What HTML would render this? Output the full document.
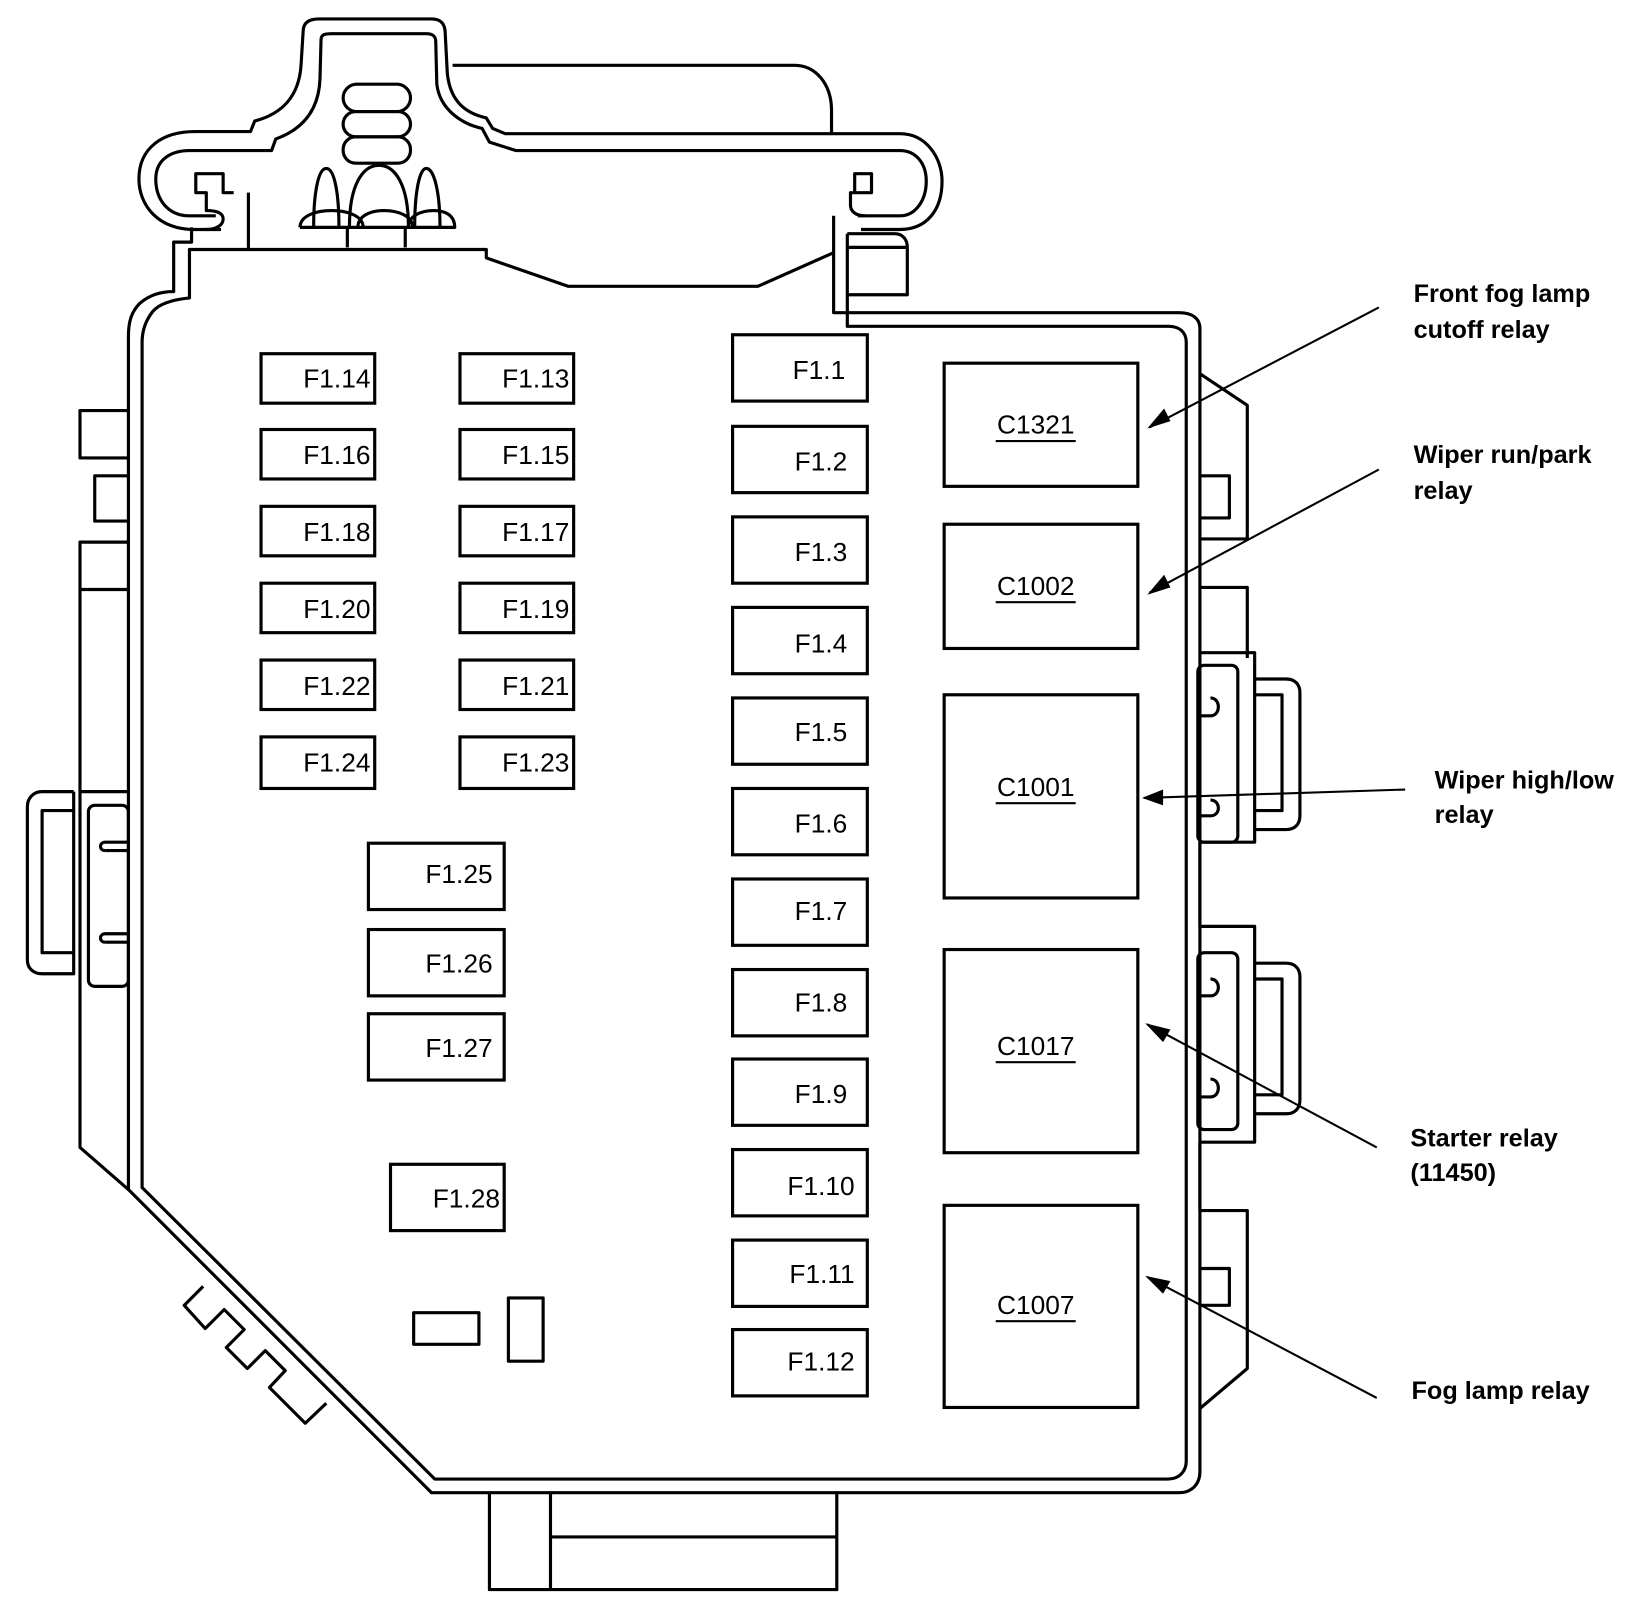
<!DOCTYPE html>
<html><head><meta charset="utf-8"><style>html,body{margin:0;padding:0;background:#fff}svg{display:block}</style></head>
<body>
<svg width="1642" height="1598" viewBox="0 0 1560 1518" preserveAspectRatio="none" xmlns="http://www.w3.org/2000/svg">
<g fill="none" stroke="#000" stroke-width="3" stroke-linejoin="round">
<!-- top loops -->
<path d="M210,218 L185,218 C150,218 132,195 132,170 C132,140 155,125 185,125 L238,125 L242,115 C268,108 284,92 286,62 L288,30 C288,22 293,18 303,18 L410,18 C420,18 423,24 423,32 L425,70 C428,98 444,108 462,112 L468,122 L480,127 L855,127 C880,127 895,150 895,172 C895,200 880,218 855,218 L818,218"/>
<path d="M205,205 L180,205 C160,205 148,190 148,170 C148,152 162,143 180,143 L258,143 L262,132 C290,122 303,102 304,75 L305,38 C305,33 308,32 315,32 L405,32 C412,32 414,35 414,40 L415,80 C418,105 440,118 458,122 L465,135 L490,143 L855,143 C870,143 880,155 880,172 C880,190 870,205 855,205 L815,205"/>
<path d="M430,62 L755,62 C775,62 790,80 790,105 L790,127"/>
<!-- hooks -->
<path d="M196,218 C205,218 212,214 212,208 C212,202 206,200 196,200 L196,183 L186,183 L186,165 L212,165 L212,183 L222,183"/>
<path d="M822,205 C812,205 808,200 808,195 L808,183 L828,183 L828,165 L812,165 L812,183"/>
<!-- connector ovals -->
<rect x="326" y="80" width="64" height="26" rx="13"/>
<rect x="326" y="106" width="64" height="24" rx="12"/>
<rect x="326" y="130" width="64" height="25" rx="12"/>
<path d="M298,215 C298,185 302,160 310,160 C318,160 322,185 322,215 M332,215 C332,175 345,157 360,157 C375,157 388,175 388,215 M394,215 C394,185 398,160 405,160 C413,160 418,185 418,215"/>
<path d="M285,216 C285,205 300,200 315,200 C330,200 345,205 345,216 M340,216 C340,205 352,200 365,200 C378,200 392,205 392,216 M388,216 C388,205 400,200 412,200 C424,200 432,205 432,216 L285,216"/>
<path d="M330,216 L330,235 M385,216 L385,235"/>
<!-- body outer -->
<path d="M182,216 L182,230 L165,230 L165,277 C150,277 140,282 133,288 C125,296 122,305 122,320 L122,1130 L410,1418 L1120,1418 C1132,1418 1140,1410 1140,1398 L1140,312 C1140,302 1132,297 1120,297 L792,297 L792,205"/>
<!-- body inner -->
<path d="M236,183 L236,237 L180,237 L180,283 C160,285 150,290 145,296 C138,305 135,315 135,325 L135,1128 L413,1405 L1110,1405 C1120,1405 1127,1398 1127,1388 L1127,325 C1127,315 1120,310 1110,310 L805,310 L805,222"/>
<path d="M236,237 L462,237 L462,245 L540,272 L720,272 L792,240"/>
<path d="M805,222 L850,222 C858,222 862,228 862,235 L862,280 L805,280 M805,235 L862,235"/>
<!-- left tabs -->
<path d="M122,390 L76,390 L76,435 L122,435 M122,452 L90,452 L90,495 L122,495 M122,515 L76,515 L76,752 L122,752 M122,560 L76,560"/>
<path d="M76,752 L76,1090 L122,1130"/>
<path d="M70,752 L40,752 C32,752 26,758 26,766 L26,912 C26,920 32,925 40,925 L70,925 L70,752 M70,770 L40,770 L40,905 L70,905"/>
<rect x="84" y="765" width="38" height="172" rx="6"/>
<path d="M100,800 L122,800 M100,808 C94,808 94,800 100,800 M100,887 L122,887 M100,895 C94,895 94,887 100,887"/>
<path d="M100,808 L122,808 M100,895 L122,895"/>
<!-- bottom-left teeth -->
<path d="M193,1222 L175,1240 L195,1262 L213,1244 L232,1263 L215,1280 L235,1300 L252,1283 L271,1302 L256,1318 L290,1352 L310,1333"/>
<!-- bottom connector -->
<path d="M465,1418 L465,1510 L795,1510 L795,1418 M523,1418 L523,1510 M523,1460 L795,1460"/>
<!-- right tabs -->
<path d="M1140,355 L1185,385 L1185,512 L1140,512 M1140,452 L1168,452 L1168,492 L1140,492"/>
<path d="M1140,558 L1185,558 L1185,625 M1140,620 L1192,620 L1192,800 L1140,800 M1140,800 L1140,880 L1192,880 L1192,1085 L1140,1085"/>
<rect x="1138" y="632" width="38" height="168" rx="6"/>
<rect x="1138" y="905" width="38" height="168" rx="6"/>
<path d="M1192,645 L1222,645 C1230,645 1235,650 1235,658 L1235,775 C1235,783 1230,788 1222,788 L1192,788 M1192,660 L1218,660 L1218,770 L1192,770"/>
<path d="M1192,915 L1222,915 C1230,915 1235,920 1235,928 L1235,1045 C1235,1053 1230,1058 1222,1058 L1192,1058 M1192,930 L1218,930 L1218,1040 L1192,1040"/>
<path d="M1150,663 C1160,663 1160,680 1150,680 L1138,680 M1150,760 C1160,760 1160,775 1150,775 L1138,775 M1150,930 C1160,930 1160,946 1150,946 L1138,946 M1150,1025 C1160,1025 1160,1042 1150,1042 L1138,1042"/>
<path d="M1140,1085 L1140,1150 L1185,1150 L1185,1300 L1140,1338 M1140,1205 L1168,1205 L1168,1240 L1140,1240"/>
<!-- small parts -->
<rect x="393" y="1247" width="62" height="30"/>
<rect x="483" y="1233" width="33" height="60"/>
</g>
<g fill="none" stroke="#000" stroke-width="3">
<rect x="248" y="336" width="108" height="47"/><rect x="437" y="336" width="108" height="47"/>
<rect x="248" y="408" width="108" height="47"/><rect x="437" y="408" width="108" height="47"/>
<rect x="248" y="481" width="108" height="47"/><rect x="437" y="481" width="108" height="47"/>
<rect x="248" y="554" width="108" height="47"/><rect x="437" y="554" width="108" height="47"/>
<rect x="248" y="627" width="108" height="47"/><rect x="437" y="627" width="108" height="47"/>
<rect x="248" y="700" width="108" height="49"/><rect x="437" y="700" width="108" height="49"/>
<rect x="350" y="801" width="129" height="63"/><rect x="350" y="883" width="129" height="63"/><rect x="350" y="963" width="129" height="63"/>
<rect x="371" y="1106" width="108" height="63"/>
<rect x="696" y="318" width="128" height="63"/><rect x="696" y="405" width="128" height="63"/>
<rect x="696" y="491" width="128" height="63"/><rect x="696" y="577" width="128" height="63"/>
<rect x="696" y="663" width="128" height="63"/><rect x="696" y="749" width="128" height="63"/>
<rect x="696" y="835" width="128" height="63"/><rect x="696" y="921" width="128" height="63"/>
<rect x="696" y="1006" width="128" height="63"/><rect x="696" y="1092" width="128" height="63"/>
<rect x="696" y="1178" width="128" height="63"/><rect x="696" y="1263" width="128" height="63"/>
<rect x="897" y="345" width="184" height="117"/><rect x="897" y="498" width="184" height="118"/>
<rect x="897" y="660" width="184" height="193"/><rect x="897" y="902" width="184" height="193"/>
<rect x="897" y="1145" width="184" height="192"/>
</g>
<g font-family="Liberation Sans, sans-serif" font-size="25" fill="#000" text-anchor="end">
<text x="352" y="368">F1.14</text><text x="541" y="368">F1.13</text>
<text x="352" y="441">F1.16</text><text x="541" y="441">F1.15</text>
<text x="352" y="514">F1.18</text><text x="541" y="514">F1.17</text>
<text x="352" y="587">F1.20</text><text x="541" y="587">F1.19</text>
<text x="352" y="660">F1.22</text><text x="541" y="660">F1.21</text>
<text x="352" y="733">F1.24</text><text x="541" y="733">F1.23</text>
<text x="468" y="839">F1.25</text><text x="468" y="924">F1.26</text><text x="468" y="1004">F1.27</text>
<text x="475" y="1147">F1.28</text>
<text x="803" y="360">F1.1</text><text x="805" y="447">F1.2</text><text x="805" y="533">F1.3</text>
<text x="805" y="620">F1.4</text><text x="805" y="704">F1.5</text><text x="805" y="791">F1.6</text>
<text x="805" y="874">F1.7</text><text x="805" y="961">F1.8</text><text x="805" y="1048">F1.9</text>
<text x="812" y="1135">F1.10</text><text x="812" y="1219">F1.11</text><text x="812" y="1302">F1.12</text>
</g>
<g font-family="Liberation Sans, sans-serif" font-size="25" fill="#000" text-anchor="middle">
<text x="984" y="412">C1321</text><text x="984" y="565">C1002</text><text x="984" y="756">C1001</text>
<text x="984" y="1002">C1017</text><text x="984" y="1248">C1007</text>
</g>
<g stroke="#000" stroke-width="2">
<path d="M946,419 L1022,419 M946,572 L1022,572 M946,763 L1022,763 M946,1009 L1022,1009 M946,1255 L1022,1255"/>
<path d="M1310,292 L1092,406 M1310,446 L1092,563 M1335,750 L1087,758 M1308,1090 L1090,973 M1308,1328 L1090,1213"/>
</g>
<g fill="#000">
<polygon points="1090,407 1106,388 1112,400"/>
<polygon points="1090,565 1106,546 1112,558"/>
<polygon points="1085,758 1105,750 1105,765"/>
<polygon points="1088,972 1112,978 1105,990"/>
<polygon points="1088,1212 1112,1217 1105,1229"/>
</g>
<g font-family="Liberation Sans, sans-serif" font-size="24" font-weight="bold" fill="#000">
<text x="1343" y="287">Front fog lamp</text><text x="1343" y="321">cutoff relay</text>
<text x="1343" y="440">Wiper run/park</text><text x="1343" y="474">relay</text>
<text x="1363" y="749">Wiper high/low</text><text x="1363" y="782">relay</text>
<text x="1340" y="1089">Starter relay</text><text x="1340" y="1122">(11450)</text>
<text x="1341" y="1329">Fog lamp relay</text>
</g>
</svg>
</body></html>
